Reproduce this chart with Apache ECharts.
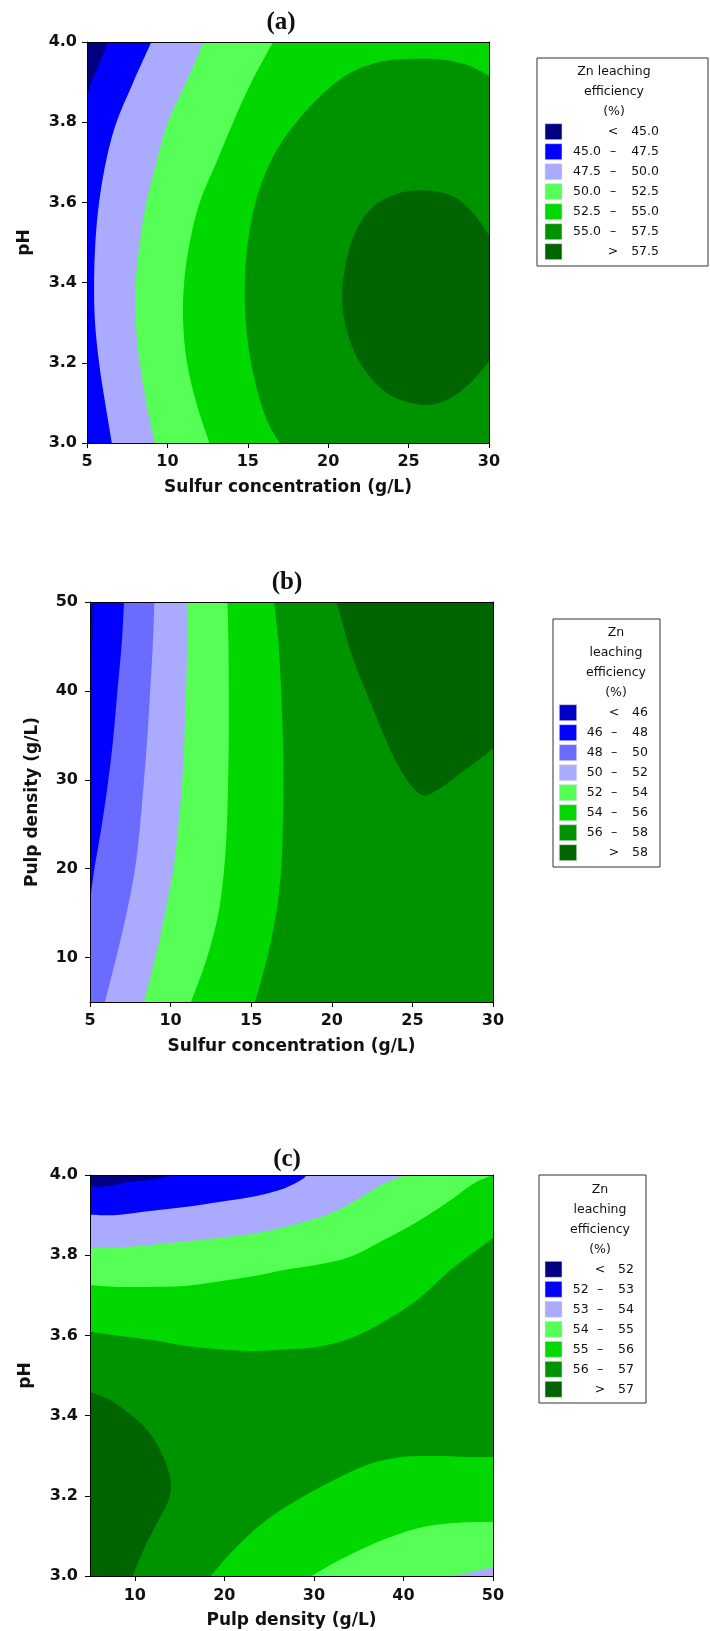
<!DOCTYPE html>
<html><head><meta charset="utf-8">
<script src="https://cdn.jsdelivr.net/npm/echarts@6/dist/echarts.min.js"></script>
<style>html,body{margin:0;padding:0;background:#fff}#c{width:710px;height:1631px}</style>
</head><body><div id="c"></div>
<script>
// ---------- colours ----------
const C_NAVY='#000080', C_DBLUE='#0000c4', C_BLUE='#0000ff', C_MBLUE='#6b6bff', C_LAV='#aaaaff',
      C_LGREEN='#55ff55', C_GREEN='#00d800', C_MGREEN='#009300', C_DGREEN='#006400';

// ---------- Panel (a): Sulfur concentration vs pH ----------
const aXRange=[5,30], aYRange=[3,4];
const aXTicks=[5,10,15,20,25,30];
const aYTicks=[3.0,3.2,3.4,3.6,3.8,4.0];
const aLevels=[45.0,47.5,50.0,52.5,55.0,57.5];
const aColors=[C_NAVY,C_BLUE,C_LAV,C_LGREEN,C_GREEN,C_MGREEN,C_DGREEN];
const aBound45=[[6.31,4.0],[5.79,3.948],[5.27,3.898],[5.0,3.864]];
const aBound475=[[9.00,4.0],[7.86,3.898],[6.83,3.8],[6.20,3.706],[5.75,3.6],[5.52,3.5],[5.44,3.4],[5.50,3.3],[5.75,3.2],[6.10,3.107],[6.55,3.0]];
const aBound50=[[12.26,4.0],[11.18,3.9],[10.04,3.8],[9.32,3.7],[8.69,3.6],[8.28,3.5],[8.03,3.4],[8.03,3.3],[8.28,3.2],[8.69,3.1],[9.22,3.0]];
const aBound525=[[16.58,4.0],[15.23,3.9],[14.09,3.8],[13.05,3.7],[12.01,3.6],[11.39,3.5],[11.04,3.4],[10.98,3.3],[11.22,3.2],[11.80,3.1],[12.62,3.0]];
const aBound55=[[30,3.916],[28.61,3.943],[27.16,3.956],[25.50,3.958],[23.42,3.952],[21.35,3.923],[19.48,3.864],[17.82,3.790],[16.58,3.715],[15.64,3.623],[15.08,3.523],[14.83,3.423],[14.85,3.315],[15.17,3.207],[15.75,3.107],[16.37,3.041],[16.99,3.0]];
const aBound575=[[30,3.519],[29.02,3.573],[27.78,3.615],[25.91,3.630],[24.25,3.621],[22.80,3.590],[21.76,3.532],[21.14,3.457],[20.87,3.374],[21.04,3.299],[21.66,3.224],[22.59,3.166],[23.84,3.120],[25.81,3.095],[27.37,3.107],[28.82,3.149],[30,3.203]];

// ---------- Panel (b): Sulfur concentration vs Pulp density ----------
const bXRange=[5,30], bYRange=[5,50];
const bXTicks=[5,10,15,20,25,30];
const bYTicks=[10,20,30,40,50];
const bLevels=[46,48,50,52,54,56,58];
const bColors=[C_DBLUE,C_BLUE,C_MBLUE,C_LAV,C_LGREEN,C_GREEN,C_MGREEN,C_DGREEN];
const bBound46=[[5.31,50],[5.2,47],[5.08,44.5],[5.0,42.5]];
const bBound48=[[7.11,50],[6.97,45.32],[6.70,39.97],[6.45,34.84],[6.14,30.0],[5.72,24.73],[5.27,19.93],[5.0,16.30]];
const bBound50=[[9.00,50],[8.90,45.32],[8.73,39.97],[8.56,34.84],[8.35,30.0],[8.10,24.73],[7.79,19.93],[7.27,14.99],[6.61,9.86],[5.93,5]];
const bBound52=[[11.06,50],[11.04,45.32],[10.96,39.97],[10.86,34.84],[10.73,30],[10.48,24.73],[10.17,19.93],[9.66,14.99],[9.04,9.86],[8.35,5]];
const bBound54=[[13.53,50],[13.59,45.32],[13.61,39.97],[13.61,34.84],[13.57,30],[13.49,24.73],[13.32,19.93],[12.97,14.99],[12.24,9.86],[11.27,5]];
const bBound56=[[16.42,50],[16.69,45.32],[16.86,39.97],[16.96,34.84],[17.00,30],[16.96,24.73],[16.86,19.93],[16.55,14.99],[15.97,9.86],[15.24,5]];
const bBound58=[[20.31,50],[20.73,47.19],[21.35,43.45],[22.18,39.70],[23.01,35.96],[23.84,32.59],[24.66,29.97],[25.60,28.29],[26.53,28.85],[27.98,30.72],[29.22,32.40],[30,33.53]];

// ---------- Panel (c): Pulp density vs pH ----------
const cXRange=[5,50], cYRange=[3,4];
const cXTicks=[10,20,30,40,50];
const cYTicks=[3.0,3.2,3.4,3.6,3.8,4.0];
const cLevels=[52,53,54,55,56,57];
const cColors=[C_NAVY,C_BLUE,C_LAV,C_LGREEN,C_GREEN,C_MGREEN,C_DGREEN];
const cBound52Top=[[5,3.972],[7,3.972],[9.2,3.982],[11.9,3.989],[13.7,3.997],[14.3,4.0]];
const cBound53Top=[[5,3.901],[8,3.900],[11.7,3.910],[15.6,3.920],[19.2,3.932],[23.0,3.945],[26.6,3.966],[28.6,3.988],[29.2,4.0]];
const cBound54Top=[[5,3.817],[9.84,3.822],[13.57,3.830],[17.29,3.838],[21.02,3.847],[24.75,3.860],[28.47,3.880],[32.20,3.907],[35.92,3.953],[37.79,3.978],[40.39,4.0]];
const cBound55Top=[[5,3.725],[7.98,3.721],[11.71,3.721],[15.43,3.723],[19.16,3.734],[22.88,3.746],[26.61,3.763],[30.34,3.776],[34.07,3.796],[37.79,3.838],[41.52,3.883],[45.24,3.937],[47.85,3.979],[50,4.0]];
const cBound56Top=[[5,3.610],[7.98,3.600],[11.71,3.589],[15.43,3.575],[19.16,3.566],[22.88,3.561],[26.61,3.565],[30.34,3.571],[34.07,3.592],[37.79,3.634],[41.52,3.688],[45.24,3.763],[48.22,3.813],[50,3.843]];
const cBound57=[[5,3.459],[7.24,3.439],[9.84,3.397],[11.71,3.355],[13.20,3.297],[14.02,3.235],[13.76,3.189],[12.45,3.131],[10.96,3.065],[9.77,3.0]];
const cBound56Bot=[[18.49,3.0],[21.02,3.065],[24.75,3.140],[28.47,3.194],[32.20,3.239],[35.92,3.277],[39.65,3.296],[43.37,3.299],[47.10,3.297],[50,3.297]];
const cBound55Bot=[[29.78,3.0],[32.20,3.032],[35.92,3.073],[39.65,3.106],[43.37,3.127],[47.10,3.134],[50,3.135]];
const cBound54Bot=[[45.42,3.0],[47.85,3.011],[50,3.023]];

// ---------- fill layers (painted in order): boundary curve + straight closing corners ----------
function rect(xr,yr){return [[xr[0],yr[0]],[xr[1],yr[0]],[xr[1],yr[1]],[xr[0],yr[1]]];}
const layersA=[
  {c:aColors[5], curve:[], corners:rect(aXRange,aYRange)},
  {c:aColors[4], curve:aBound55, corners:[[aXRange[0],aYRange[0]],[aXRange[0],aYRange[1]],[aXRange[1],aYRange[1]]]},
  {c:aColors[3], curve:aBound525, corners:[[aXRange[0],aYRange[0]],[aXRange[0],aYRange[1]]]},
  {c:aColors[2], curve:aBound50, corners:[[aXRange[0],aYRange[0]],[aXRange[0],aYRange[1]]]},
  {c:aColors[1], curve:aBound475, corners:[[aXRange[0],aYRange[0]],[aXRange[0],aYRange[1]]]},
  {c:aColors[0], curve:aBound45, corners:[[aXRange[0],aYRange[1]]]},
  {c:aColors[6], curve:aBound575, corners:[]}
];
const layersB=[
  {c:bColors[6], curve:[], corners:rect(bXRange,bYRange)},
  {c:bColors[7], curve:bBound58, corners:[[bXRange[1],bYRange[1]]]},
  {c:bColors[5], curve:bBound56, corners:[[bXRange[0],bYRange[0]],[bXRange[0],bYRange[1]]]},
  {c:bColors[4], curve:bBound54, corners:[[bXRange[0],bYRange[0]],[bXRange[0],bYRange[1]]]},
  {c:bColors[3], curve:bBound52, corners:[[bXRange[0],bYRange[0]],[bXRange[0],bYRange[1]]]},
  {c:bColors[2], curve:bBound50, corners:[[bXRange[0],bYRange[0]],[bXRange[0],bYRange[1]]]},
  {c:bColors[1], curve:bBound48, corners:[[bXRange[0],bYRange[1]]]},
  {c:bColors[0], curve:bBound46, corners:[[bXRange[0],bYRange[1]]]}
];
const layersC=[
  {c:cColors[5], curve:[], corners:rect(cXRange,cYRange)},
  {c:cColors[4], curve:cBound56Top, corners:[[cXRange[1],cYRange[1]],[cXRange[0],cYRange[1]]]},
  {c:cColors[3], curve:cBound55Top, corners:[[cXRange[0],cYRange[1]]]},
  {c:cColors[2], curve:cBound54Top, corners:[[cXRange[0],cYRange[1]]]},
  {c:cColors[1], curve:cBound53Top, corners:[[cXRange[0],cYRange[1]]]},
  {c:cColors[0], curve:cBound52Top, corners:[[cXRange[0],cYRange[1]]]},
  {c:cColors[6], curve:cBound57, corners:[[cXRange[0],cYRange[0]]]},
  {c:cColors[4], curve:cBound56Bot, corners:[[cXRange[1],cYRange[0]]]},
  {c:cColors[3], curve:cBound55Bot, corners:[[cXRange[1],cYRange[0]]]},
  {c:cColors[2], curve:cBound54Bot, corners:[[cXRange[1],cYRange[0]]]}
];

// smooth path through pixel points (Catmull-Rom drawn as cubic Bezier), corners as straight lines
function buildPath(curvePx, cornerPx){
  let d='';
  const P=curvePx;
  if(P.length){
    d+='M'+P[0][0]+','+P[0][1];
    for(let i=0;i<P.length-1;i++){
      const p0=P[Math.max(i-1,0)], p1=P[i], p2=P[i+1], p3=P[Math.min(i+2,P.length-1)];
      const c1=[p1[0]+(p2[0]-p0[0])/6, p1[1]+(p2[1]-p0[1])/6];
      const c2=[p2[0]-(p3[0]-p1[0])/6, p2[1]-(p3[1]-p1[1])/6];
      d+='C'+c1[0]+','+c1[1]+' '+c2[0]+','+c2[1]+' '+p2[0]+','+p2[1];
    }
    cornerPx.forEach(p=>{d+='L'+p[0]+','+p[1];});
  } else {
    cornerPx.forEach((p,i)=>{d+=(i?'L':'M')+p[0]+','+p[1];});
  }
  return d+'Z';
}

function polySeries(gi, layers){
  return {
    type:'custom', coordinateSystem:'cartesian2d', xAxisIndex:gi*2, yAxisIndex:gi*2,
    data: layers.map(l=>(l.curve.length?l.curve[0]:l.corners[0])), clip:true, silent:true, animation:false, z:2,
    renderItem:function(params, api){
      const L=layers[params.dataIndex];
      const d=buildPath(L.curve.map(p=>api.coord(p)), L.corners.map(p=>api.coord(p)));
      return {type:'path', z2:params.dataIndex, shape:{pathData:d}, style:{fill:L.c, stroke:null}};
    }
  };
}

const TICK_FONT={fontFamily:'DejaVu Sans', fontWeight:'bold', fontSize:16, color:'#111'};
const NAME_FONT={fontFamily:'DejaVu Sans', fontWeight:'bold', fontSize:17, color:'#111'};
const LINE={color:'#000', width:1};

function xAxes(gi, r, ticks, name, dec, lm){
  return [{
    gridIndex:gi, type:'value', min:r[0], max:r[1], position:'bottom', z:10,
    axisLine:{show:true,onZero:false,lineStyle:LINE},
    axisTick:{show:true,length:5,customValues:ticks,lineStyle:LINE},
    axisLabel:Object.assign({customValues:ticks, margin:lm, formatter:v=>v.toFixed(dec)},TICK_FONT),
    splitLine:{show:false},
    name:name, nameLocation:'middle', nameGap:36, nameTextStyle:NAME_FONT
  },{
    gridIndex:gi, type:'value', min:r[0], max:r[1], position:'top', z:10,
    axisLine:{show:true,onZero:false,lineStyle:LINE}, axisTick:{show:false}, axisLabel:{show:false}, splitLine:{show:false}
  }];
}
function yAxes(gi, r, ticks, name, dec, gap, lm){
  return [{
    gridIndex:gi, type:'value', min:r[0], max:r[1], position:'left', z:10,
    axisLine:{show:true,onZero:false,lineStyle:LINE},
    axisTick:{show:true,length:5,customValues:ticks,lineStyle:LINE},
    axisLabel:Object.assign({customValues:ticks, margin:lm, formatter:v=>v.toFixed(dec)},TICK_FONT),
    splitLine:{show:false},
    name:name, nameLocation:'middle', nameGap:gap, nameTextStyle:NAME_FONT
  },{
    gridIndex:gi, type:'value', min:r[0], max:r[1], position:'right', z:10,
    axisLine:{show:true,onZero:false,lineStyle:LINE}, axisTick:{show:false}, axisLabel:{show:false}, splitLine:{show:false}
  }];
}

// ---------- legends (graphic) ----------
const LEG_FONT='12.5px "DejaVu Sans"';
function legend(g){
  const els=[];
  els.push({type:'rect', shape:{x:g.box[0],y:g.box[1],width:g.box[2],height:g.box[3]},
    style:{fill:'#fff', stroke:'#333', lineWidth:1}, z:20});
  g.title.forEach((t,i)=>els.push({type:'text', z:21, style:{text:t, x:g.titleX, y:g.titleY+i*20,
    font:LEG_FONT, fill:'#111', textAlign:'center', textVerticalAlign:'middle'}}));
  const n=g.levels.length;
  const f=v=>v.toFixed(g.dec);
  for(let i=0;i<=n;i++){
    const y=g.rowY+i*20;
    els.push({type:'rect', z:21, shape:{x:g.swX, y:y-8, width:g.swW, height:16},
      style:{fill:g.colors[i], stroke:'#ddd', lineWidth:0.6}});
    let lo='', mid='', hi='';
    if(i===0){mid='<'; hi=f(g.levels[0]);}
    else if(i===n){mid='>'; hi=f(g.levels[n-1]);}
    else {lo=f(g.levels[i-1]); mid='–'; hi=f(g.levels[i]);}
    if(lo) els.push({type:'text', z:21, style:{text:lo, x:g.lowX, y:y, font:LEG_FONT, fill:'#111', textAlign:'left', textVerticalAlign:'middle'}});
    els.push({type:'text', z:21, style:{text:mid, x:g.dashX, y:y, font:LEG_FONT, fill:'#111', textAlign:'center', textVerticalAlign:'middle'}});
    els.push({type:'text', z:21, style:{text:hi, x:g.highX, y:y, font:LEG_FONT, fill:'#111', textAlign:'right', textVerticalAlign:'middle'}});
  }
  return els;
}
const LEG_TITLE_A=['Zn leaching','efficiency','(%)'];
const LEG_TITLE_BC=['Zn','leaching','efficiency','(%)'];

const graphics=[].concat(
  legend({box:[537,58,171,208], title:LEG_TITLE_A, titleX:614, titleY:72, swX:545, swW:17, rowY:131.7,
          lowX:573, dashX:613, highX:659, levels:aLevels, colors:aColors, dec:1}),
  legend({box:[553,619,107,248], title:LEG_TITLE_BC, titleX:616, titleY:632.7, swX:559.3, swW:17.4, rowY:712.7,
          lowX:586.7, dashX:614, highX:648, levels:bLevels, colors:bColors, dec:0}),
  legend({box:[539,1175,107,228], title:LEG_TITLE_BC, titleX:600, titleY:1189.3, swX:545, swW:17, rowY:1269.3,
          lowX:572.7, dashX:600, highX:634, levels:cLevels, colors:cColors, dec:0}),
  [['(a)',281,23],['(b)',287,583],['(c)',287,1160]].map(t=>({type:'text', z:21,
    style:{text:t[0], x:t[1], y:t[2], font:'bold 25px "Liberation Serif"', fill:'#111', textAlign:'center', textVerticalAlign:'middle'}}))
);

const chart=echarts.init(document.getElementById('c'),null,{renderer:'canvas'});
chart.setOption({
  animation:false,
  backgroundColor:'#fff',
  grid:[
    {left:87, top:42, width:402, height:401},
    {left:90, top:602, width:403, height:400},
    {left:90, top:1175, width:403, height:401}
  ],
  xAxis:[].concat(
    xAxes(0,aXRange,aXTicks,'Sulfur concentration (g/L)',0,11),
    xAxes(1,bXRange,bXTicks,'Sulfur concentration (g/L)',0,11),
    xAxes(2,cXRange,cXTicks,'Pulp density (g/L)',0,12)),
  yAxis:[].concat(
    yAxes(0,aYRange,aYTicks,'pH',1,54,10),
    yAxes(1,bYRange,bYTicks,'Pulp density (g/L)',0,49,12),
    yAxes(2,cYRange,cYTicks,'pH',1,56,12)),
  series:[polySeries(0,layersA),polySeries(1,layersB),polySeries(2,layersC)],
  graphic:graphics
});
</script></body></html>
